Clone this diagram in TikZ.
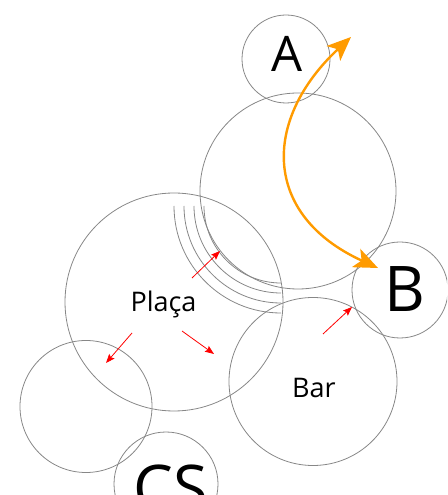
\documentclass[tikz,border=0pt]{standalone}
\usepackage{fontspec}
\newfontfamily\labelfont{Open Sans}
\usetikzlibrary{arrows.meta}
\definecolor{ringgray}{RGB}{135,135,135}
\definecolor{arroworange}{RGB}{255,155,0}
\tikzset{
  ring/.style={circle, draw=ringgray, line width=0.8pt, inner sep=0pt},
  lbl/.style={inner sep=0pt, text=black},
  arcline/.style={draw=ringgray, line width=0.8pt},
  redarrow/.style={draw=red, line width=0.8pt, -{Stealth[length=9pt,width=7pt,inset=1.5pt]}},
  orangearrow/.style={draw=arroworange, line width=2.4pt,
    {Stealth[length=24pt,width=20pt,inset=6pt]}-{Stealth[length=24pt,width=20pt,inset=6pt]}}
}
\begin{document}
\begin{tikzpicture}[x=1pt,y=1pt]
\useasboundingbox (0,0) rectangle (447,495);
\clip (0,0) rectangle (447,495);
% circles
\node[ring, minimum size=88pt]  (cA)   at (286,436) {};
\node[ring, minimum size=196pt] (cU)   at (298,304) {};
\node[ring, minimum size=218pt] (cP)   at (174,193) {};
\node[ring, minimum size=96pt]  (cB)   at (400,205) {};
\node[ring, minimum size=168pt] (cBar) at (313,113.5) {};
\node[ring, minimum size=132pt] (cL)   at (86,88.5) {};
\node[ring, minimum size=104pt] (cCS)  at (166,11) {};
% concentric arcs
\coordinate (arcc) at (281,289);
\foreach \r in {77,87,97,107}{
  \draw[arcline] ([xshift=-\r pt]arcc) arc[start angle=180, end angle=270, radius=\r pt];
}
% labels
\node[lbl, font=\labelfont\fontsize{49}{49}\selectfont] (tA) at (287,441) {A};
\node[lbl, font=\labelfont\fontsize{63}{63}\selectfont] (tB) at (405,205.5) {B};
\node[lbl, anchor=base, font=\labelfont\fontsize{27}{27}\selectfont] (tP) at (163.5,183) {Plaça};
\node[lbl, anchor=base, font=\labelfont\fontsize{27}{27}\selectfont] (tBar) at (314,97) {Bar};
\node[lbl, anchor=base, font=\labelfont\fontsize{63}{63}\selectfont] (tCS) at (171,-15) {CS};
% red arrows
\coordinate (r1s) at (192,217); \coordinate (r1e) at (220,244);
\coordinate (r2s) at (323,161); \coordinate (r2e) at (352,188);
\coordinate (r3s) at (132,162); \coordinate (r3e) at (106,132);
\coordinate (r4s) at (182,164); \coordinate (r4e) at (214,141);
\draw[redarrow] (r1s) -- (r1e);
\draw[redarrow] (r2s) -- (r2e);
\draw[redarrow] (r3s) -- (r3e);
\draw[redarrow] (r4s) -- (r4e);
% orange arrow
\coordinate (oA) at (351,458);
\coordinate (oB) at (378,227);
\draw[orangearrow] (oA) .. controls (262,375) and (262,280) .. (oB);
\end{tikzpicture}
\end{document}
